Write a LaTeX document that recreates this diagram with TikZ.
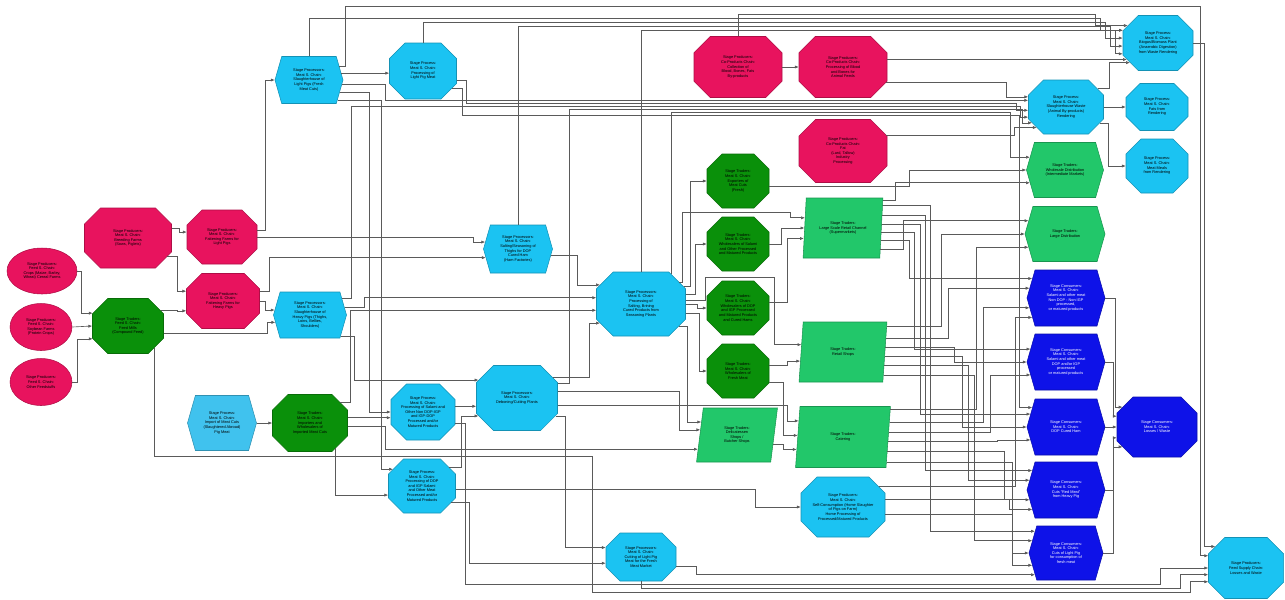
\documentclass[tikz,border=0pt]{standalone}
\usepackage{fontspec}
\setmainfont{Liberation Sans}
\usetikzlibrary{positioning,arrows.meta,calc,shapes.misc,shapes.geometric,shapes.symbols}
\definecolor{chainred}{HTML}{E8135E}
\definecolor{chaingreen}{HTML}{0A900A}
\definecolor{tradegreen}{HTML}{22C76A}
\definecolor{procblue}{HTML}{1BC3F2}
\definecolor{importblue}{HTML}{40C2EE}
\definecolor{consblue}{HTML}{0E12E8}
\definecolor{wire}{HTML}{5A5A5A}
\tikzset{
  box/.style={align=center, font=\fontsize{2.2}{2.65}\selectfont, inner sep=0.5pt, line width=0.3pt},
  sz/.style 2 args={minimum width=#1*0.02cm, minimum height=#2*0.02cm},
  osz/.style 2 args={minimum width=#1*0.02cm, minimum height=#2*0.02cm,
    chamfered rectangle ysep=#2*0.0033cm},
  oct/.style={box, chamfered rectangle, fill=#1, draw=#1!75!black},
  hex/.style={box, signal, signal to=east and west, signal pointer angle=148,
    fill=#1, draw=#1!75!black},
  para/.style={box, trapezium, trapezium left angle=82, trapezium right angle=98,
    trapezium stretches=true, fill=tradegreen, draw=tradegreen!75!black},
  farm/.style={box, ellipse, fill=chainred, draw=chainred!75!black},
  link/.style={draw=wire, line width=0.35pt, -{Latex[length=2.2pt,width=1.8pt]}},
}
\begin{document}
\begin{tikzpicture}[x=0.02cm, y=-0.02cm]
\useasboundingbox (0,0) rectangle (1285,599);

% feed supply chain
\node[farm, sz={70}{46}] (cropA) at (42,271) {Stage Producers:\\Feed S. Chain:\\Crops (Maize, Barley,\\Wheat) Cereal Farms};
\node[farm, sz={62}{47}] (cropB) at (41,327) {Stage Producers:\\Feed S. Chain:\\Soybean Farms\\(Protein Crops)};
\node[farm, sz={62}{47}] (cropC) at (41,382) {Stage Producers:\\Feed S. Chain:\\Other Feedstuffs};
\node[oct=chaingreen, osz={71}{55}] (feedMill) at (128,326) {Stage Traders:\\Feed S. Chain:\\Feed Mills\\(Compound Feed)};

% pig farms
\node[oct=chainred, osz={87}{60}] (breed) at (128,238) {Stage Producers:\\Meat S. Chain:\\Breeding Farms\\(Sows, Piglets)};
\node[oct=chainred, osz={70}{54}] (fatLight) at (222,237) {Stage Producers:\\Meat S. Chain:\\Fattening Farms for\\Light Pigs};
\node[oct=chainred, osz={73}{55}] (fatHeavy) at (223,301) {Stage Producers:\\Meat S. Chain:\\Fattening Farms for\\Heavy Pigs};

% slaughter and processing
\node[hex=procblue, sz={68}{47}] (slLight) at (309,80) {Stage Processors:\\Meat S. Chain:\\Slaughterhouse of\\Light Pigs (Fresh\\Meat Cuts)};
\node[oct=procblue, osz={67}{56}] (procLight) at (423,71) {Stage Process:\\Meat S. Chain:\\Processing of\\Light Pig Meat};
\node[hex=procblue, sz={73}{46}] (slHeavy) at (310,315) {Stage Processors:\\Meat S. Chain:\\Slaughterhouse of\\Heavy Pigs (Thighs,\\Loins, Bellies,\\Shoulders)};
\node[hex=importblue, sz={69}{55}] (impCuts) at (222,423) {Stage Process:\\Meat S. Chain:\\Import of Meat Cuts\\(Slaughtered Abroad)\\Pig Meat};
\node[oct=chaingreen, osz={75}{57}] (impTrade) at (310,423) {Stage Traders:\\Meat S. Chain:\\Importers and\\Wholesalers of\\Imported Meat Cuts};
\node[oct=procblue, osz={64}{56}] (salami) at (423,412) {Stage Process:\\Meat S. Chain:\\Processing of Salami and\\Other Non DOP-IGP\\and IGP-DOP\\Processed and/or\\Matured Products};
\node[oct=procblue, osz={67}{54}] (dopProc) at (422,486) {Stage Process:\\Meat S. Chain:\\Processing of DOP\\and IGP Salami\\and Other Meat\\Processed and/or\\Matured Products};
\node[oct=procblue, osz={81}{65}] (cutPlant) at (517,398) {Stage Processors:\\Meat S. Chain:\\Deboning/Cutting Plants};
\node[hex=procblue, sz={69}{48}] (cureHam) at (518,249) {Stage Processors:\\Meat S. Chain:\\Salting/Seasoning of\\Thighs for DOP\\Cured Ham\\(Ham Factories)};
\node[oct=procblue, osz={89}{64}] (saltPlant) at (641,304) {Stage Processors:\\Meat S. Chain:\\Processing of\\Salting, Brining\\Cured Products from\\Seasoning Plants};
\node[oct=procblue, osz={70}{48}] (freshCut) at (641,557) {Stage Processors:\\Meat S. Chain:\\Cutting of Light Pig\\Meat for the Fresh\\Meat Market};

% co-products
\node[oct=chainred, osz={88}{61}] (coll) at (738,67) {Stage Producers:\\Co-Products Chain:\\Collection of\\Blood, Bones, Fats\\By-products};
\node[oct=chainred, osz={88}{61}] (bloodProc) at (843,67) {Stage Producers:\\Co-Products Chain:\\Processing of Blood\\and Bones for\\Animal Feeds};
\node[oct=chainred, osz={88}{63}] (fatInd) at (843,151) {Stage Producers:\\Co-Products Chain:\\Fat\\(Lard, Tallow)\\Industry\\Processing};

% traders
\node[oct=chaingreen, osz={62}{54}] (trExport) at (738,181) {Stage Traders:\\Meat S. Chain:\\Exporters of\\Meat Cuts\\(Fresh)};
\node[oct=chaingreen, osz={62}{54}] (trSalami) at (738,244) {Stage Traders:\\Meat S. Chain:\\Wholesalers of Salami\\and Other Processed\\and Matured Products};
\node[oct=chaingreen, osz={62}{54}] (trDop) at (738,308) {Stage Traders:\\Meat S. Chain:\\Wholesalers of DOP\\and IGP Processed\\and Matured Products\\and Cured Hams};
\node[oct=chaingreen, osz={62}{54}] (trFresh) at (738,371) {Stage Traders:\\Meat S. Chain:\\Wholesalers of\\Fresh Meat};
\node[para, sz={80}{60}] (superMkt) at (843,228) {Stage Traders:\\Large Scale Retail Channel\\(Supermarkets)};
\node[para, sz={88}{60}] (retailSh) at (843,352) {Stage Traders:\\Retail Shops};
\node[para, sz={81}{54}] (delis) at (737,435) {Stage Traders:\\Delicatessen\\Shops /\\Butcher Shops};
\node[para, sz={95}{61}] (catering) at (843,437) {Stage Traders:\\Catering};
\node[oct=procblue, osz={84}{60}] (homeCons) at (843,507) {Stage Producers:\\Meat S. Chain:\\Self-Consumption (Home Slaughter\\of Pigs on Farm)\\Home Processing of\\Processed/Matured Products};

% rendering
\node[oct=procblue, osz={75}{54}] (rend) at (1066,107) {Stage Process:\\Meat S. Chain:\\Slaughterhouse Waste\\(Animal By-products)\\Rendering};
\node[oct=procblue, osz={70}{55}] (biogas) at (1158,43) {Stage Process:\\Meat S. Chain:\\Biogas/Biomass Plant\\(Anaerobic Digestion)\\from Waste Rendering};
\node[oct=procblue, osz={62}{47}] (rendFat) at (1157,107) {Stage Process:\\Meat S. Chain:\\Fats from\\Rendering};
\node[oct=procblue, osz={62}{54}] (rendMeal) at (1157,166) {Stage Process:\\Meat S. Chain:\\Meat Meals\\from Rendering};
\node[hex=tradegreen, sz={77}{55}] (whole) at (1065,170) {Stage Traders:\\Wholesale Distribution\\(Intermediate Markets)};
\node[hex=tradegreen, sz={80}{55}] (largeDist) at (1065,234) {Stage Traders:\\Large Distribution};

% consumers
\node[hex=consblue, sz={78}{56}, text=white] (consSal) at (1066,298) {Stage Consumers:\\Meat S. Chain:\\Salami and other meat\\Non DOP - Non IGP\\processed,\\or matured products};
\node[hex=consblue, sz={78}{56}, text=white] (consSalDop) at (1066,362) {Stage Consumers:\\Meat S. Chain:\\Salami and other meat\\DOP and/or IGP\\processed\\or matured products};
\node[hex=consblue, sz={78}{56}, text=white] (consDop) at (1066,427) {Stage Consumers:\\Meat S. Chain:\\DOP Cured Ham};
\node[hex=consblue, sz={78}{56}, text=white] (consRed) at (1066,490) {Stage Consumers:\\Meat S. Chain:\\Cuts “Red Meat”\\from Heavy Pig};
\node[hex=consblue, sz={74}{54}, text=white] (consLight) at (1066,553) {Stage Consumers:\\Meat S. Chain:\\Cuts of Light Pig\\for consumption of\\fresh meat};
\node[oct=consblue, osz={80}{60}, text=white] (consLoss) at (1157,427) {Stage Consumers:\\Meat S. Chain:\\Losses / Waste};
\node[oct=procblue, osz={75}{61}] (lossFeed) at (1246,568) {Stage Producers:\\Feed Supply Chain:\\Losses and Waste};

% feed chain links
\draw[link] (cropA.east) -- ++(4,0) |- (feedMill.160);
\draw[link] (cropB.east) -- (feedMill.west);
\draw[link] (cropC.east) -- ++(5,0) |- (feedMill.200);
\draw[link] (feedMill.25) -- ++(16,0) |- (fatHeavy.195);
\draw[link] (feedMill.-12) -- ++(104,0) |- (slHeavy.192);
\draw[link] (feedMill.-40) |- (592,456) |- (1190,592) |- (lossFeed.200);

% farms
\draw[link] (breed.12) -- ++(8,0) |- (fatLight.172);
\draw[link] (breed.-25) -- ++(10,0) |- (fatHeavy.165);
\draw[link] (fatLight.10) -- ++(8,0) |- (slLight.west);
\draw[link] (fatLight.east) -- ++(216,0) |- (cureHam.168);
\draw[link] (fatHeavy.east) -- ++(6,0) |- (slHeavy.172);
\draw[link] (fatHeavy.15) -- ++(10,0) |- (cureHam.195);

% light pig slaughter
\draw[link] (slLight.12) -- (procLight.west |- slLight.12);
\draw[link] (slLight.-8) -| (385,100) -- (1012,100) |- (rend.170);
\draw[link] (slLight.-22) -- ++(30,0) |- (salami.west);
\draw[link] (slLight.-35) -- ++(44,0) |- (dopProc.150);
\draw[link] (slLight.25) -- ++(6,0) |- (1200,6) |- (lossFeed.162);
\draw[link] (slLight.north) |- (1100,18) |- (biogas.160);
\draw[link] (procLight.north) |- (1105,22) |- (biogas.172);
\draw[link] (procLight.-15) -- ++(10,0) |- (1016,103) |- (rend.185);
\draw[link] (procLight.-30) -- ++(10,0) |- (1019,115) |- (consDop.150);

% heavy pig slaughter
\draw[link] (slHeavy.12) -- ++(20,0) |- (saltPlant.172);
\draw[link] (slHeavy.28) -- ++(9,0) |- (1020,106) |- (rend.195);
\draw[link] (slHeavy.-35) -- ++(14,0) |- (cutPlant.155);

% imported cuts
\draw[link] (impCuts.east) -- (impTrade.west);
\draw[link] (impTrade.8) -- (salami.west |- impTrade.8);
\draw[link] (impTrade.35) -- ++(10,0) |- (saltPlant.188);
\draw[link] (impTrade.-5) -- ++(38,0) |- (delis.200);
\draw[link] (impTrade.-45) |- (dopProc.195);

% salami and dop processing
\draw[link] (salami.10) -- (cutPlant.west |- salami.10);
\draw[link] (salami.-20) -- ++(10,0) |- (1160,584) |- (lossFeed.west);
\draw[link] (dopProc.35) -- ++(12,0) |- (cutPlant.205);
\draw[link] (dopProc.-5) -- ++(300,0) |- (homeCons.west);
\draw[link] (dopProc.-30) -- ++(18,0) |- (freshCut.190);

% deboning
\draw[link] (cutPlant.30) -- ++(36,0) |- (saltPlant.205);
\draw[link] (cutPlant.20) -- ++(12,0) |- (1022,109) |- (rend.205);
\draw[link] (cutPlant.10) -- ++(122,0) |- (delis.172);
\draw[link] (cutPlant.-10) -- ++(230,0) |- (catering.160);
\draw[link] (cutPlant.-25) -- ++(10,0) |- (freshCut.165);

% cured ham
\draw[link] (cureHam.-10) -- ++(26,0) |- (saltPlant.155);
\draw[link] (cureHam.north) |- (1110,26) |- (biogas.185);

% processing plant
\draw[link] (saltPlant.22) -- ++(6,0) |- (trExport.west);
\draw[link] (saltPlant.12) -- ++(10,0) |- (trSalami.west);
\draw[link] (saltPlant.east) -- ++(12,0) |- (trDop.west);
\draw[link] (saltPlant.-12) -- ++(14,0) |- (trFresh.west);
\draw[link] (saltPlant.30) -- ++(3,0) |- (790,212) |- (superMkt.165);
\draw[link] (saltPlant.5) -- ++(20,0) |- (774,277) |- (retailSh.170);
\draw[link] (saltPlant.-30) -- ++(8,0) |- (delis.160);
\draw[link] (saltPlant.45) |- (1010,112) |- (whole.160);
\draw[link] (saltPlant.north) |- (1115,30) |- (biogas.197);

% fresh meat cutting
\draw[link] (freshCut.-15) -- ++(20,0) |- (consLight.215);
\draw[link] (freshCut.south) |- (1180,588) |- (lossFeed.190);

% co-products
\draw[link] (coll.east) -- (bloodProc.west);
\draw[link] (coll.north) |- (1095,14) |- (biogas.150);
\draw[link] (bloodProc.10) -- ++(210,0) |- (biogas.208);
\draw[link] (bloodProc.-20) -- ++(120,0) |- (rend.165);
\draw[link] (fatInd.20) -- ++(128,0) |- (rend.215);

% wholesalers
\draw[link] (trExport.-10) -- ++(140,0) |- (whole.180);
\draw[link] (trSalami.east) -- ++(12,0) |- (superMkt.180);
\draw[link] (trDop.10) -- ++(18,0) |- (superMkt.195);
\draw[link] (trFresh.10) -- ++(18,0) |- (retailSh.192);
\draw[link] (trFresh.-20) -- ++(14,0) |- (catering.178);
\draw[link] (delis.-15) -- ++(10,0) |- (catering.195);

% retail to consumers
\draw[link] (superMkt.35) -- ++(12,0) |- (whole.200);
\draw[link] (superMkt.30) -- ++(48,0) |- (consLight.145);
\draw[link] (superMkt.18) -- ++(43,0) |- (consRed.150);
\draw[link] (superMkt.6) -- ++(38,0) |- (consDop.160);
\draw[link] (superMkt.-6) -- ++(33,0) |- (consSalDop.160);
\draw[link] (superMkt.-18) -- ++(28,0) |- (consSal.150);
\draw[link] (superMkt.-30) -- ++(23,0) |- (largeDist.160);
\draw[link] (retailSh.30) -- ++(54,0) |- (largeDist.180);
\draw[link] (retailSh.18) -- ++(62,0) |- (consSal.165);
\draw[link] (retailSh.6) -- ++(69,0) |- (consSalDop.180);
\draw[link] (retailSh.-6) -- ++(77,0) |- (consDop.180);
\draw[link] (retailSh.-18) -- ++(84,0) |- (consRed.165);
\draw[link] (retailSh.-30) -- ++(91,0) |- (consLight.160);
\draw[link] (catering.30) -- ++(86,0) |- (largeDist.200);
\draw[link] (catering.18) -- ++(94,0) |- (consSal.195);
\draw[link] (catering.6) -- ++(101,0) |- (consSalDop.200);
\draw[link] (catering.-6) -- ++(109,0) |- (consDop.200);
\draw[link] (catering.-18) -- ++(117,0) |- (consRed.195);
\draw[link] (catering.-30) -- ++(126,0) |- (consLight.180);
\draw[link] (homeCons.30) -- ++(137,0) |- (consSal.210);
\draw[link] (homeCons.10) -- ++(124,0) |- (consRed.210);
\draw[link] (homeCons.-10) -- ++(127,0) |- (consLight.200);

% rendering
\draw[link] (rend.30) -- ++(12,0) |- (biogas.215);
\draw[link] (rend.east) -- (rendFat.west);
\draw[link] (rend.-25) -- ++(8,0) |- (rendMeal.west);
\draw[link] (biogas.east) -- ++(11,0) |- (lossFeed.145);

% consumer losses
\draw[link] (consSal.east) -- ++(10,0) |- (consLoss.150);
\draw[link] (consSalDop.east) -- ++(8,0) |- (consLoss.165);
\draw[link] (consDop.east) -- (consLoss.west);
\draw[link] (consRed.east) -- ++(8,0) |- (consLoss.195);
\draw[link] (consLight.east) -- ++(10,0) |- (consLoss.210);
\end{tikzpicture}
\end{document}
